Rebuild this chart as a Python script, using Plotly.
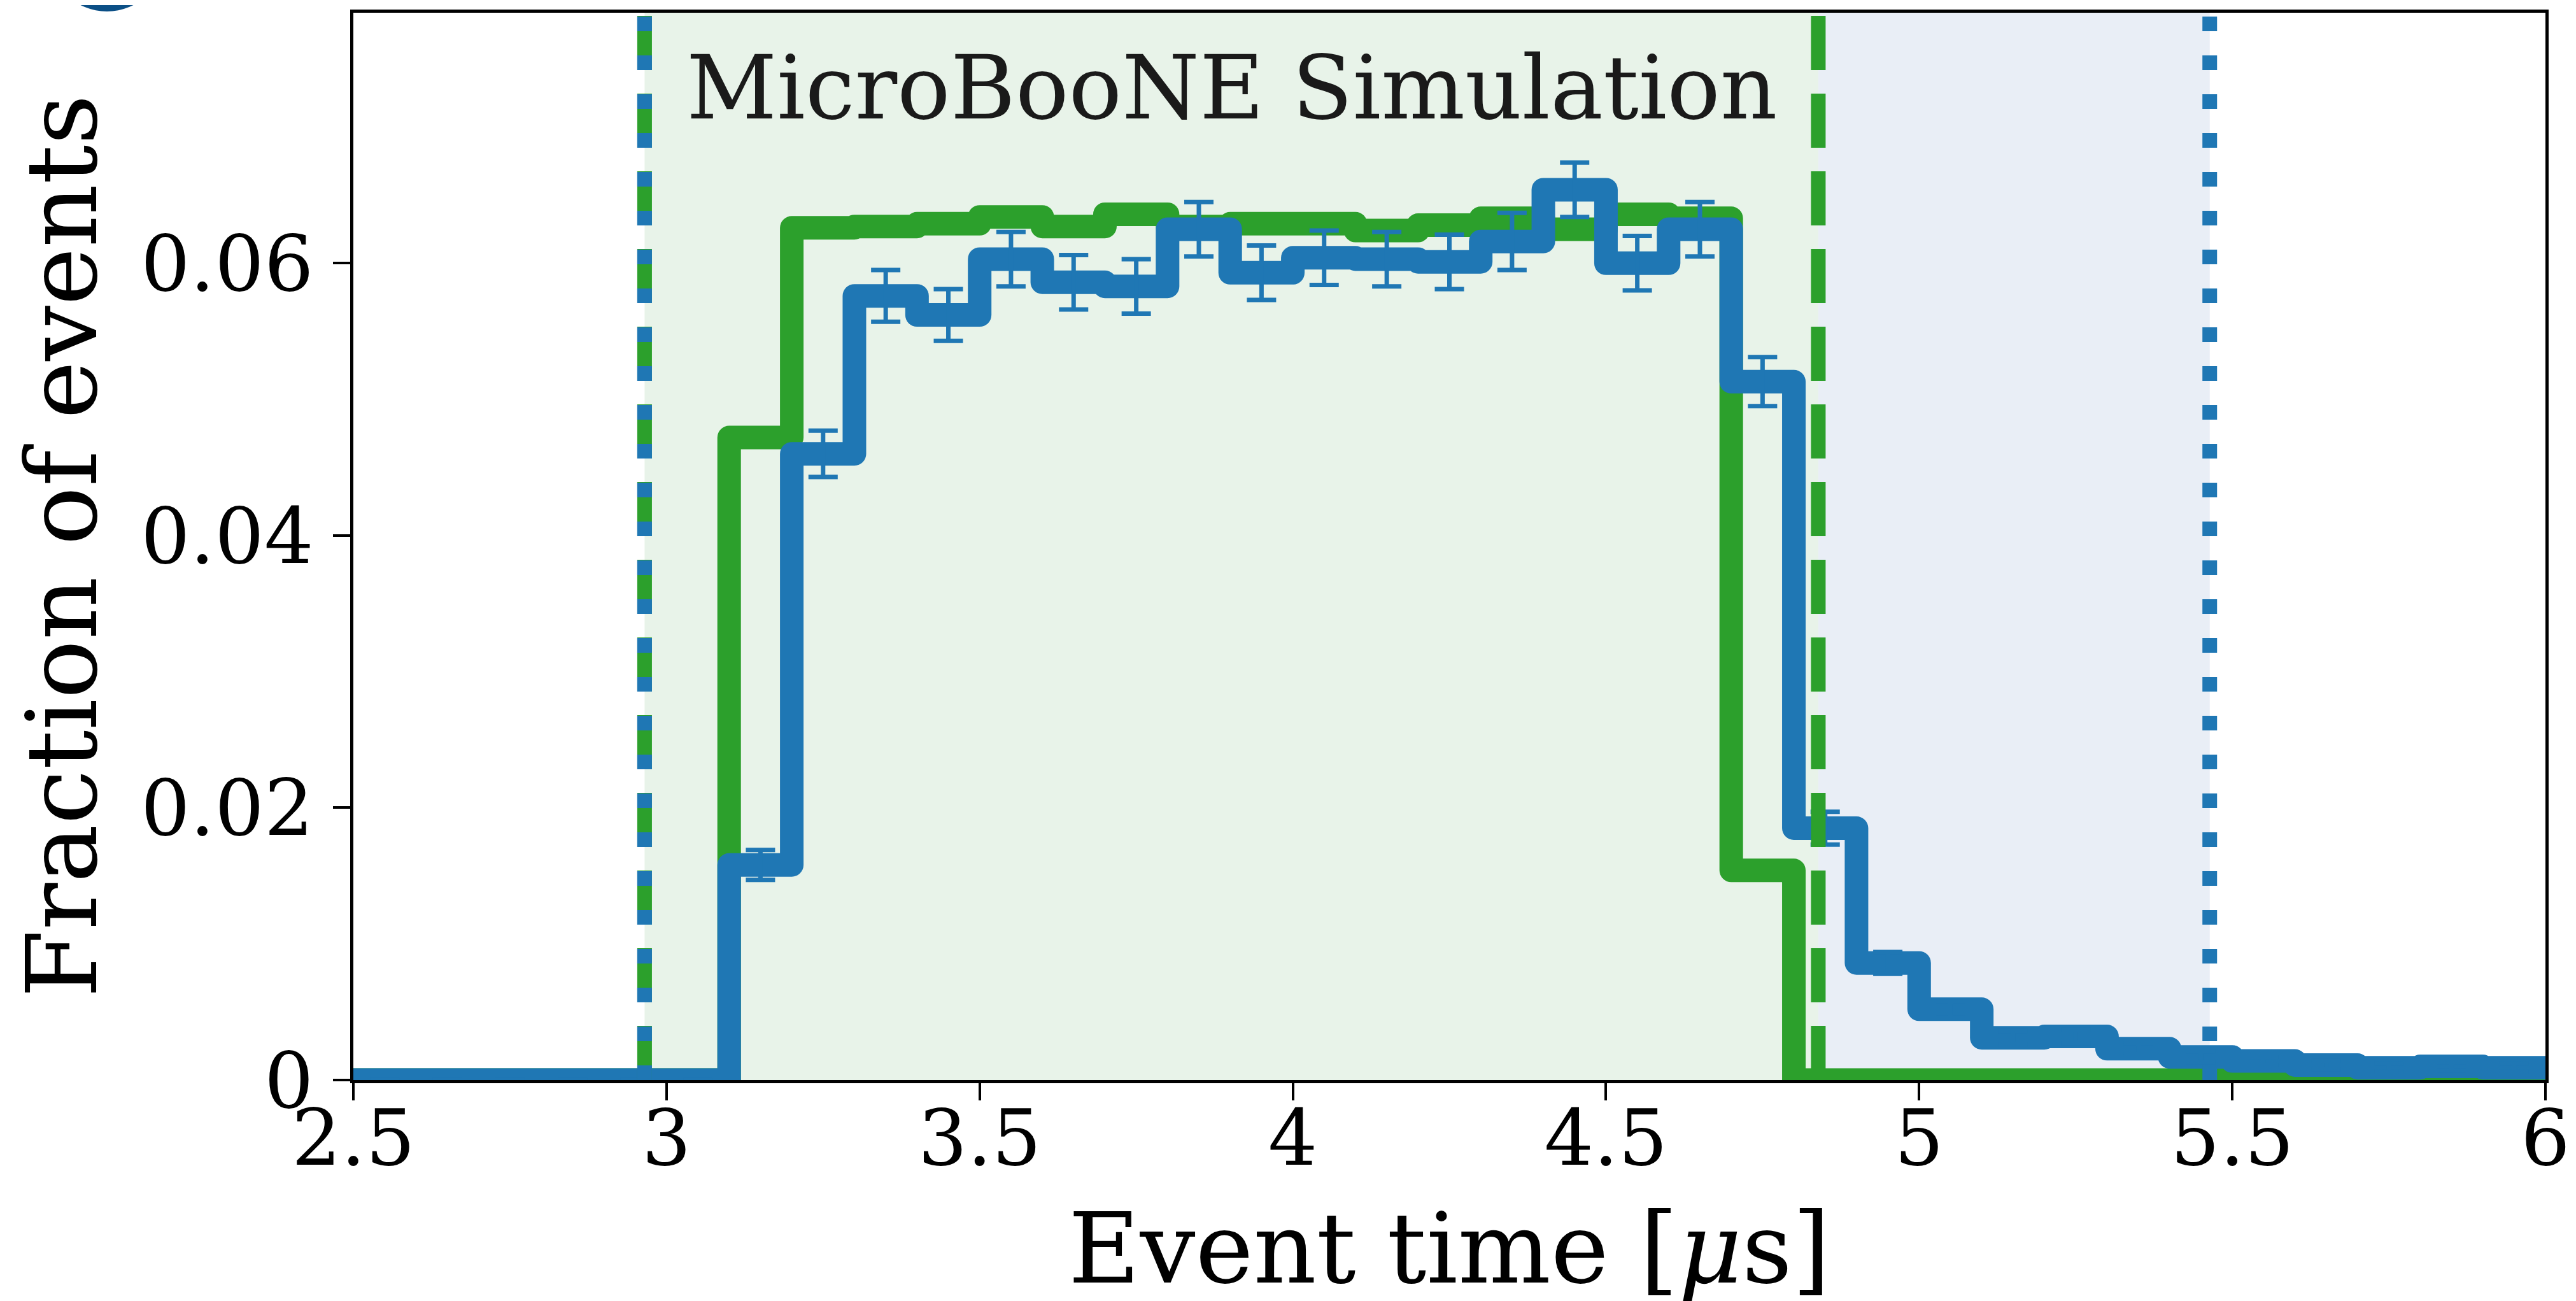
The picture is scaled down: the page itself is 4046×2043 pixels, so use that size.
import plotly.graph_objects as go

# ---------------- data ----------------
bin_edges = [2.5, 2.6, 2.7, 2.8, 2.9, 3.0, 3.1, 3.2, 3.3, 3.4, 3.5, 3.6, 3.7, 3.8,
             3.9, 4.0, 4.1, 4.2, 4.3, 4.4, 4.5, 4.6, 4.7, 4.8, 4.9, 5.0, 5.1, 5.2,
             5.3, 5.4, 5.5, 5.6, 5.7, 5.8, 5.9, 6.0]

green_frac = [0, 0, 0, 0, 0, 0,
              0.0472, 0.0626, 0.0627, 0.0629, 0.0634, 0.0627, 0.0636, 0.0627,
              0.0629, 0.0629, 0.0624, 0.0628, 0.0633, 0.0625, 0.0636, 0.0633,
              0.0154, 0, 0, 0, 0, 0, 0, 0, 0, 0, 0, 0, 0]

blue_frac = [0, 0, 0, 0, 0, 0,
             0.0158, 0.0460, 0.0576, 0.0562, 0.0603, 0.0586, 0.0583, 0.0625,
             0.0593, 0.0604, 0.0603, 0.0601, 0.0616, 0.0654, 0.0600, 0.0625,
             0.0513, 0.0185, 0.0086, 0.0052, 0.0031, 0.0032, 0.0023, 0.0017,
             0.0014, 0.0011, 0.0009, 0.0010, 0.0009]

blue_err = [0, 0, 0, 0, 0, 0,
            0.0011, 0.0017, 0.0019, 0.0019, 0.0020, 0.0020, 0.0020, 0.0020,
            0.0020, 0.0020, 0.0020, 0.0020, 0.0021, 0.0020, 0.0020, 0.0020,
            0.0018, 0.0012, 0.0008, 0.0006, 0.0005, 0.0005, 0.0004, 0.0004,
            0.0003, 0.0003, 0.0003, 0.0003, 0.0003]

green_window = [2.965, 4.839]   # shaded window / dashed lines
blue_window = [2.965, 5.464]    # dotted lines

x_ticks = [2.5, 3, 3.5, 4, 4.5, 5, 5.5, 6]
x_tick_text = ["2.5", "3", "3.5", "4", "4.5", "5", "5.5", "6"]
y_ticks = [0, 0.02, 0.04, 0.06]
y_tick_text = ["0", "0.02", "0.04", "0.06"]

label_text = "MicroBooNE Simulation"
x_title = "Event time [<i>μ</i>s]"
y_title = "Fraction of events"

# ---------------- style ----------------
BLUE = "#1f77b4"
GREEN = "#2ca02c"
FONT = "DejaVu Serif"
W, H = 4046, 2043
L, R, T, B = 547, 56, 12, 355
PW, PH = W - L - R, H - T - B

fig = go.Figure()

fig.add_trace(go.Scatter(
    x=bin_edges, y=green_frac + [green_frac[-1]], mode="lines",
    line=dict(color=GREEN, width=37, shape="hv"), showlegend=False))
fig.add_trace(go.Scatter(
    x=bin_edges, y=blue_frac + [blue_frac[-1]], mode="lines",
    line=dict(color=BLUE, width=37, shape="hv"), showlegend=False))

centers = [round((a + b) / 2, 3) for a, b in zip(bin_edges[:-1], bin_edges[1:])]
fig.add_trace(go.Scatter(
    x=centers, y=blue_frac, mode="markers",
    marker=dict(size=0.1, color=BLUE, opacity=0),
    error_y=dict(type="data", array=blue_err, color=BLUE, thickness=7, width=23),
    showlegend=False))

shapes = [
    dict(type="rect", xref="x", yref="paper", x0=green_window[0], x1=green_window[1],
         y0=0, y1=1, fillcolor="#e8f3e9", line=dict(width=0), layer="below"),
    dict(type="rect", xref="x", yref="paper", x0=green_window[1], x1=blue_window[1],
         y0=0, y1=1, fillcolor="#e9eef6", line=dict(width=0), layer="below"),
]
for xv in green_window:
    shapes.append(dict(type="line", xref="x", yref="paper", x0=xv, x1=xv, y0=0, y1=1,
                       line=dict(color=GREEN, width=23, dash="85px,37px"), layer="above"))
for xv in blue_window:
    shapes.append(dict(type="line", xref="x", yref="paper", x0=xv, x1=xv, y0=0, y1=1,
                       line=dict(color=BLUE, width=23, dash="23px,38px"), layer="above"))
# cropped panel marker at the top-left corner
shapes.append(dict(type="circle", xref="paper", yref="paper",
                   x0=(69 - L) / PW, x1=(251 - L) / PW,
                   y0=(H - B - 10) / PH, y1=(H - B + 172) / PH,
                   fillcolor="#0b4f86", line=dict(width=0), layer="above"))

axis_common = dict(showline=True, linewidth=5, linecolor="black", mirror=True,
                   ticks="outside", ticklen=27, tickwidth=4, tickcolor="black",
                   showgrid=False, zeroline=False,
                   tickfont=dict(family=FONT, size=122, color="black"))

fig.update_layout(
    width=W, height=H,
    margin=dict(l=L, r=R, t=T, b=B, autoexpand=False),
    paper_bgcolor="white", plot_bgcolor="white",
    shapes=shapes,
    xaxis=dict(range=[2.5, 6], tickvals=x_ticks, ticktext=x_tick_text,
               ticklabelstandoff=-45, **axis_common),
    yaxis=dict(range=[0, 0.0784], tickvals=y_ticks, ticktext=y_tick_text,
               ticklabelstandoff=6, **axis_common),
    annotations=[
        dict(text=label_text, x=3.902, y=0.0729, xref="x", yref="y", showarrow=False,
             font=dict(family=FONT, size=139, color="#1a1a1a"),
             xanchor="center", yanchor="middle"),
        dict(text=x_title, x=0.5, y=-0.158, xref="paper", yref="paper", showarrow=False,
             font=dict(family=FONT, size=154, color="black"),
             xanchor="center", yanchor="middle"),
        dict(text=y_title, x=-0.133, y=0.5, xref="paper", yref="paper", showarrow=False,
             textangle=-90, font=dict(family=FONT, size=154, color="black"),
             xanchor="center", yanchor="middle"),
    ],
)

fig.write_html(
    "out.html",
    post_script="document.querySelectorAll('.js-line').forEach(function(p){"
                "p.style.strokeLinejoin='round';p.style.strokeLinecap='round';});",
)
